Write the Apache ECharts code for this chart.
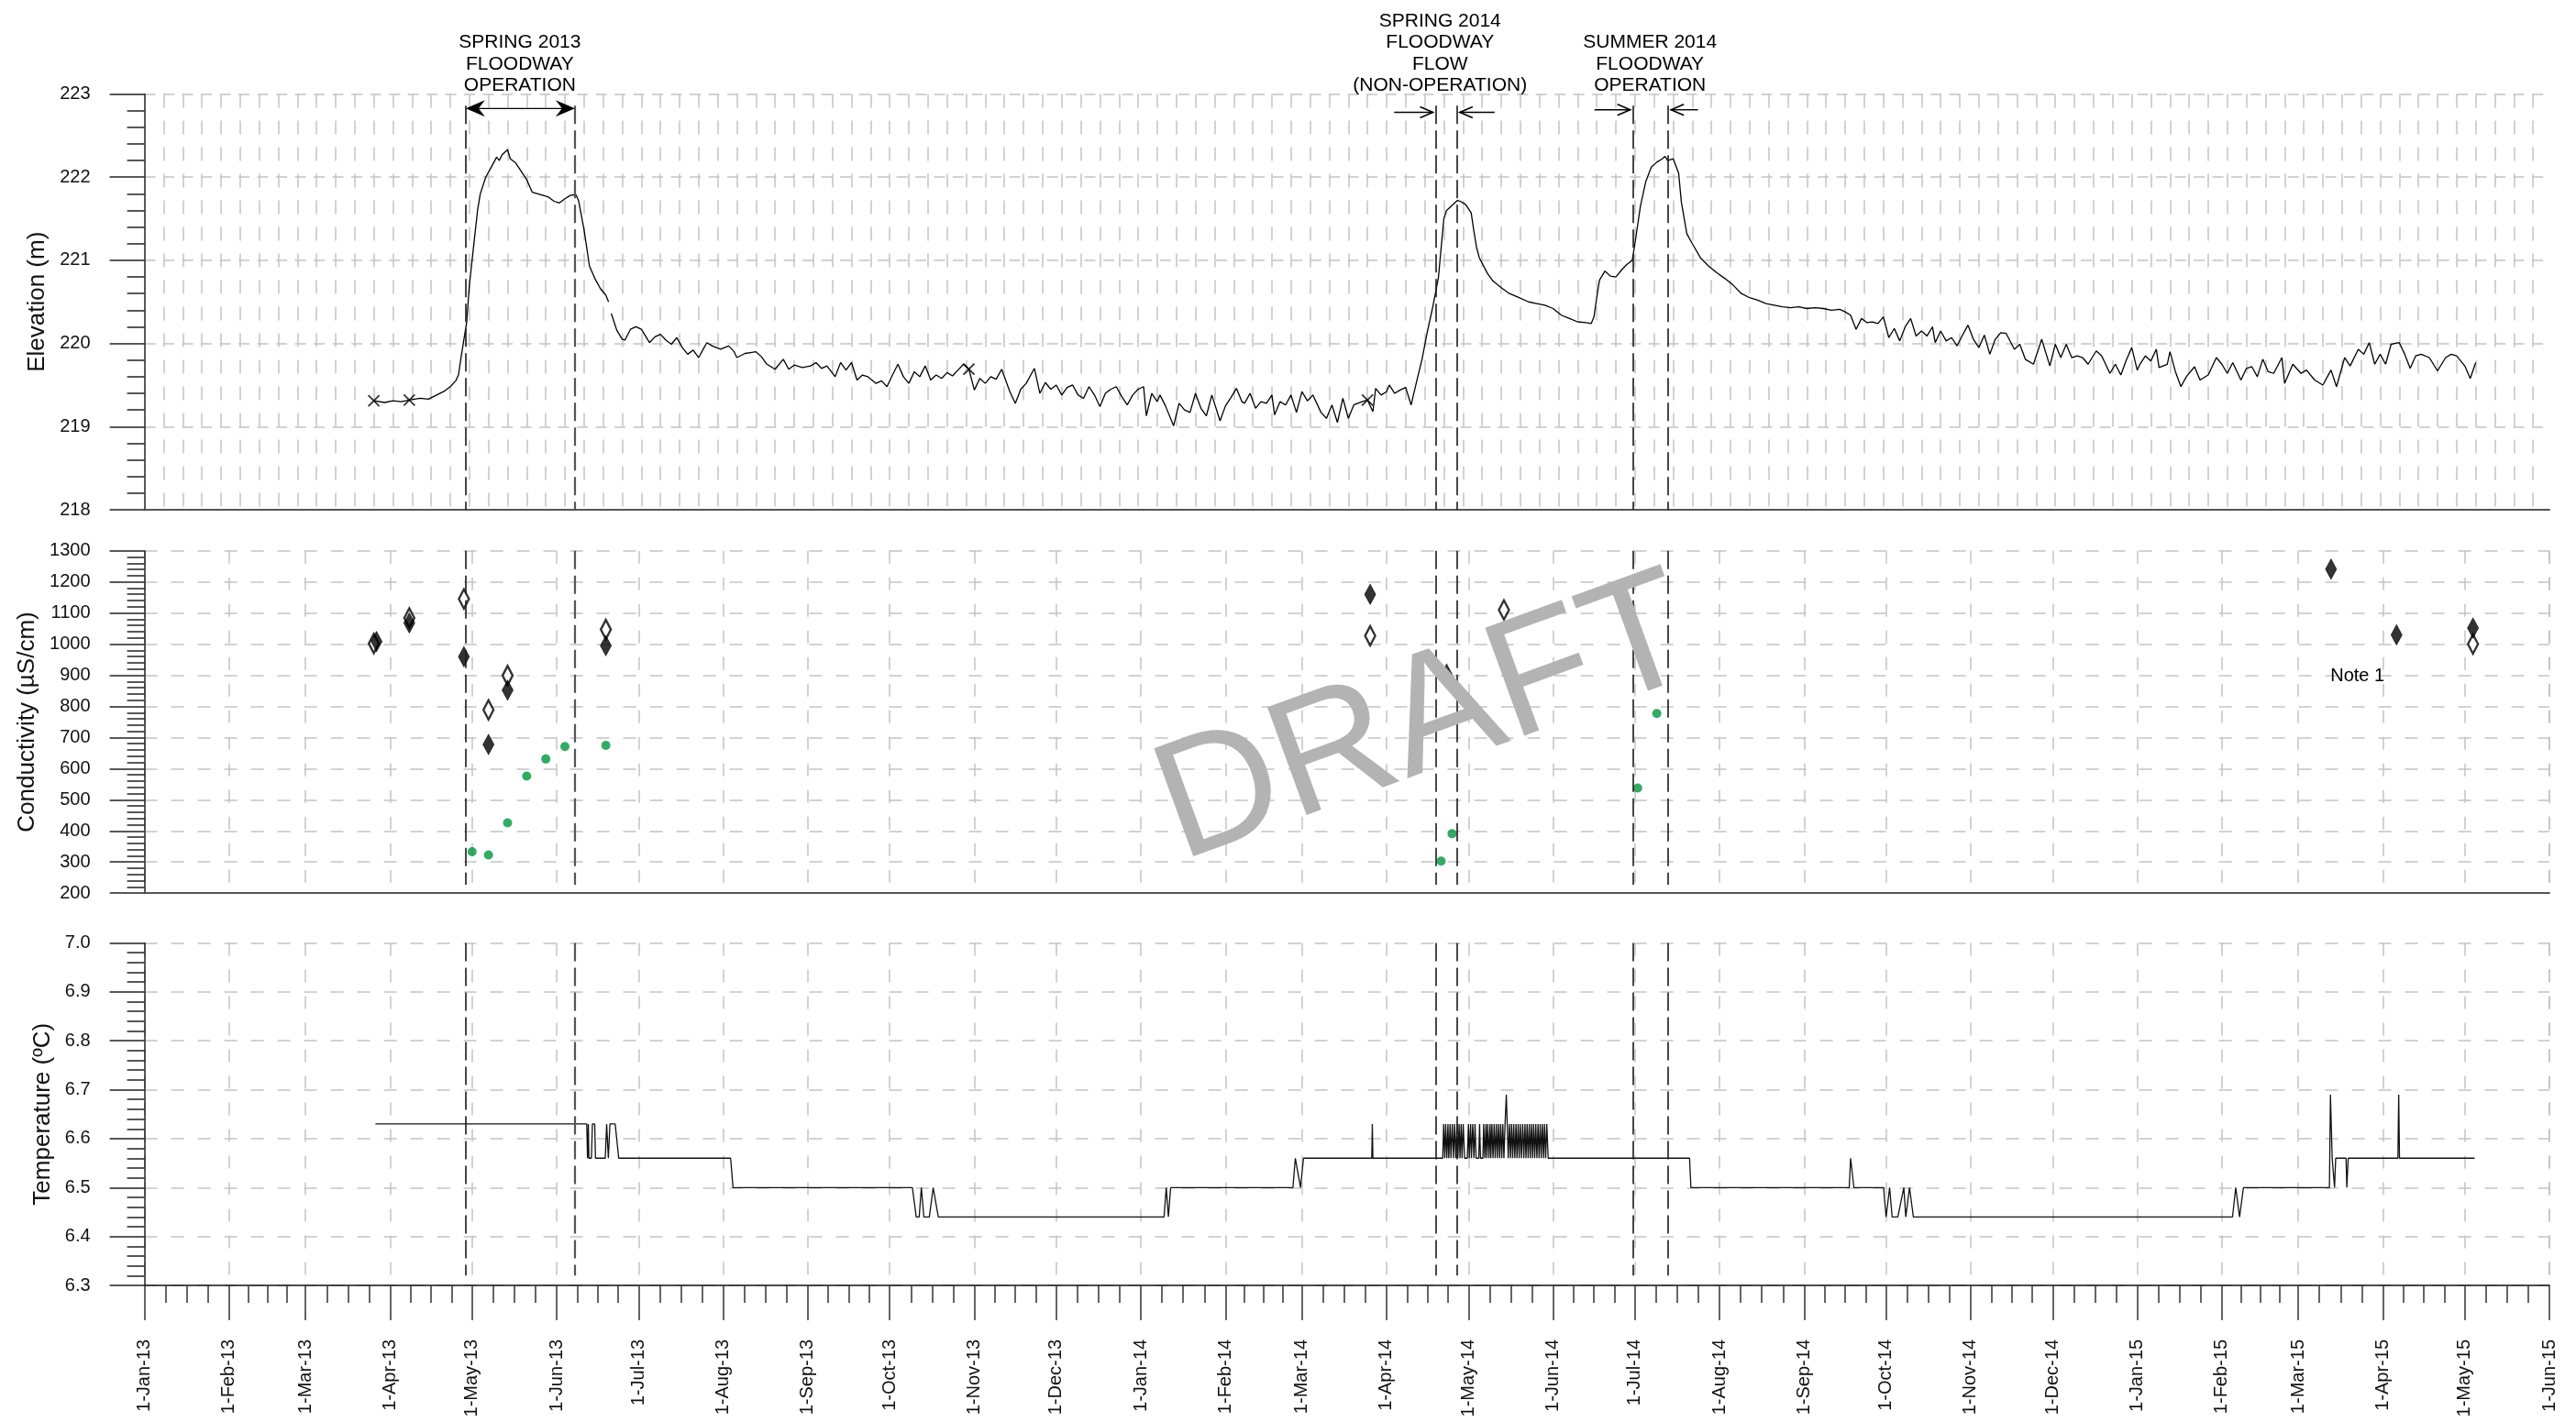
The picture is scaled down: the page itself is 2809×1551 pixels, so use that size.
<!DOCTYPE html>
<html>
<head>
<meta charset="utf-8">
<script src="https://cdn.jsdelivr.net/npm/echarts@6/dist/echarts.min.js"></script>
<style>
  html, body { margin: 0; padding: 0; background: #ffffff; }
  #chart { width: 2809px; height: 1551px; }
</style>
</head>
<body>
<div id="chart"></div>
<script>
const FONT = "'Liberation Sans', Arial, Helvetica, sans-serif";
const DAY = 86400000;
const X_MIN = '2013-01-01';
const X_MAX = '2015-06-01';
const MONTHS = ['Jan','Feb','Mar','Apr','May','Jun','Jul','Aug','Sep','Oct','Nov','Dec'];

// Groundwater elevation (m)
const elevation = [
  ['2013-03-26',219.31],['2013-03-30',219.29],['2013-04-02',219.31],['2013-04-05',219.30],['2013-04-08',219.32],['2013-04-12',219.34],['2013-04-15',219.33],['2013-04-18',219.38],['2013-04-21',219.43],['2013-04-23',219.48],['2013-04-25',219.55],['2013-04-26',219.62],['2013-04-27',219.84],['2013-04-28',220.05],['2013-04-29',220.25],['2013-04-30',220.70],
  ['2013-05-01',221.00],['2013-05-02',221.30],['2013-05-03',221.60],['2013-05-04',221.80],['2013-05-06',222.00],['2013-05-08',222.12],['2013-05-10',222.24],['2013-05-11',222.20],['2013-05-12',222.27],['2013-05-14',222.33],['2013-05-15',222.22],['2013-05-17',222.17],['2013-05-19',222.07],['2013-05-21',221.97],['2013-05-23',221.82],['2013-05-25',221.80],['2013-05-27',221.78],['2013-05-29',221.76],['2013-05-31',221.71],
  ['2013-06-02',221.69],['2013-06-04',221.74],['2013-06-06',221.78],['2013-06-08',221.79],['2013-06-09',221.72],['2013-06-11',221.37],['2013-06-13',220.93],['2013-06-15',220.78],['2013-06-17',220.66],['2013-06-19',220.58],['2013-06-20',220.50],['2013-06-20 18:00',null],['2013-06-21',220.36],['2013-06-23',220.16],['2013-06-25',220.05],['2013-06-26',220.04],['2013-06-28',220.17],['2013-06-30',220.20],
  ['2013-07-02',220.17],['2013-07-05',220.01],['2013-07-07',220.08],['2013-07-09',220.11],['2013-07-11',220.04],['2013-07-13',219.99],['2013-07-15',220.07],['2013-07-17',219.95],['2013-07-19',219.87],['2013-07-21',219.92],['2013-07-23',219.83],['2013-07-25',219.95],['2013-07-26',220.01],['2013-07-28',219.97],['2013-07-31',219.93],
  ['2013-08-03',219.97],['2013-08-05',219.90],['2013-08-06',219.83],['2013-08-09',219.88],['2013-08-11',219.89],['2013-08-13',219.90],['2013-08-15',219.84],['2013-08-17',219.75],['2013-08-20',219.69],['2013-08-23',219.81],['2013-08-25',219.69],['2013-08-27',219.74],['2013-08-30',219.71],
  ['2013-09-02',219.73],['2013-09-04',219.77],['2013-09-06',219.70],['2013-09-08',219.73],['2013-09-11',219.60],['2013-09-13',219.77],['2013-09-15',219.68],['2013-09-17',219.77],['2013-09-19',219.56],['2013-09-21',219.62],['2013-09-23',219.60],['2013-09-26',219.52],['2013-09-28',219.55],['2013-09-30',219.48],
  ['2013-10-02',219.62],['2013-10-04',219.75],['2013-10-06',219.60],['2013-10-08',219.52],['2013-10-10',219.66],['2013-10-12',219.60],['2013-10-14',219.73],['2013-10-16',219.56],['2013-10-18',219.62],['2013-10-20',219.58],['2013-10-22',219.65],['2013-10-24',219.61],['2013-10-26',219.68],['2013-10-28',219.75],['2013-10-30',219.69],
  ['2013-11-01',219.44],['2013-11-03',219.58],['2013-11-05',219.52],['2013-11-07',219.60],['2013-11-09',219.57],['2013-11-11',219.69],['2013-11-14',219.42],['2013-11-16',219.28],['2013-11-18',219.45],['2013-11-20',219.52],['2013-11-23',219.70],['2013-11-25',219.40],['2013-11-27',219.53],['2013-11-29',219.45],
  ['2013-12-01',219.50],['2013-12-03',219.38],['2013-12-05',219.47],['2013-12-07',219.50],['2013-12-09',219.38],['2013-12-11',219.34],['2013-12-13',219.48],['2013-12-15',219.38],['2013-12-17',219.24],['2013-12-19',219.40],['2013-12-21',219.45],['2013-12-23',219.48],['2013-12-25',219.36],['2013-12-27',219.26],['2013-12-29',219.38],['2013-12-31',219.45],
  ['2014-01-02',219.48],['2014-01-03',219.13],['2014-01-05',219.40],['2014-01-07',219.30],['2014-01-08',219.38],['2014-01-10',219.25],['2014-01-13',219.01],['2014-01-15',219.28],['2014-01-17',219.20],['2014-01-19',219.17],['2014-01-21',219.40],['2014-01-23',219.22],['2014-01-25',219.13],['2014-01-27',219.38],['2014-01-30',219.07],
  ['2014-02-01',219.25],['2014-02-03',219.35],['2014-02-05',219.46],['2014-02-07',219.30],['2014-02-08',219.28],['2014-02-10',219.40],['2014-02-12',219.22],['2014-02-14',219.30],['2014-02-16',219.28],['2014-02-18',219.38],['2014-02-19',219.14],['2014-02-21',219.30],['2014-02-23',219.26],['2014-02-25',219.38],['2014-02-27',219.17],
  ['2014-03-01',219.42],['2014-03-03',219.31],['2014-03-05',219.38],['2014-03-08',219.17],['2014-03-10',219.10],['2014-03-12',219.26],['2014-03-14',219.05],['2014-03-16',219.34],['2014-03-18',219.10],['2014-03-20',219.26],['2014-03-23',219.30],['2014-03-25',219.32],['2014-03-27',219.18],['2014-03-28',219.46],['2014-03-30',219.38],
  ['2014-04-01',219.42],['2014-04-02',219.50],['2014-04-04',219.40],['2014-04-06',219.44],['2014-04-08',219.47],['2014-04-10',219.26],['2014-04-12',219.54],['2014-04-14',219.81],['2014-04-16',220.15],['2014-04-18',220.45],['2014-04-19',220.62],['2014-04-20',220.79],['2014-04-21',221.15],['2014-04-22',221.50],['2014-04-23',221.60],['2014-04-25',221.66],['2014-04-27',221.72],['2014-04-28',221.71],['2014-04-30',221.67],
  ['2014-05-02',221.57],['2014-05-03',221.35],['2014-05-04',221.15],['2014-05-05',221.03],['2014-05-08',220.84],['2014-05-10',220.75],['2014-05-13',220.67],['2014-05-16',220.60],['2014-05-19',220.56],['2014-05-23',220.50],['2014-05-26',220.48],['2014-05-29',220.46],
  ['2014-06-01',220.42],['2014-06-04',220.34],['2014-06-07',220.30],['2014-06-10',220.26],['2014-06-13',220.25],['2014-06-15',220.24],['2014-06-16',220.32],['2014-06-17',220.55],['2014-06-18',220.76],['2014-06-20',220.87],['2014-06-22',220.81],['2014-06-24',220.80],['2014-06-26',220.88],['2014-06-28',220.95],['2014-06-30',221.00],
  ['2014-07-01',221.20],['2014-07-03',221.65],['2014-07-05',221.95],['2014-07-07',222.12],['2014-07-09',222.18],['2014-07-11',222.22],['2014-07-12',222.25],['2014-07-13',222.20],['2014-07-15',222.22],['2014-07-17',222.05],['2014-07-18',221.70],['2014-07-20',221.32],['2014-07-22',221.20],['2014-07-25',221.03],['2014-07-28',220.93],['2014-07-31',220.85],
  ['2014-08-03',220.78],['2014-08-06',220.70],['2014-08-09',220.60],['2014-08-12',220.55],['2014-08-15',220.52],['2014-08-18',220.48],['2014-08-21',220.46],['2014-08-24',220.44],['2014-08-27',220.43],['2014-08-30',220.44],
  ['2014-09-02',220.42],['2014-09-05',220.43],['2014-09-08',220.42],['2014-09-11',220.40],['2014-09-14',220.41],['2014-09-16',220.38],['2014-09-18',220.34],['2014-09-20',220.17],['2014-09-22',220.30],['2014-09-24',220.25],['2014-09-26',220.26],['2014-09-28',220.24],['2014-09-30',220.32],
  ['2014-10-02',220.07],['2014-10-04',220.18],['2014-10-06',220.03],['2014-10-08',220.20],['2014-10-10',220.30],['2014-10-12',220.09],['2014-10-14',220.15],['2014-10-16',220.09],['2014-10-18',220.20],['2014-10-19',220.01],['2014-10-21',220.15],['2014-10-23',220.03],['2014-10-25',220.07],['2014-10-27',219.97],['2014-10-29',220.10],['2014-10-31',220.22],
  ['2014-11-02',220.05],['2014-11-04',219.95],['2014-11-06',220.10],['2014-11-08',219.87],['2014-11-10',220.05],['2014-11-12',220.13],['2014-11-14',220.12],['2014-11-17',219.93],['2014-11-19',219.99],['2014-11-21',219.81],['2014-11-24',219.75],['2014-11-27',220.05],['2014-11-30',219.73],
  ['2014-12-02',219.99],['2014-12-04',219.83],['2014-12-06',219.99],['2014-12-08',219.83],['2014-12-10',219.85],['2014-12-12',219.83],['2014-12-14',219.75],['2014-12-17',219.91],['2014-12-19',219.85],['2014-12-22',219.64],['2014-12-24',219.75],['2014-12-26',219.62],['2014-12-28',219.80],['2014-12-30',219.95],
  ['2015-01-01',219.68],['2015-01-02',219.75],['2015-01-04',219.85],['2015-01-06',219.79],['2015-01-08',219.93],['2015-01-09',219.71],['2015-01-12',219.75],['2015-01-13',219.90],['2015-01-15',219.66],['2015-01-17',219.48],['2015-01-19',219.60],['2015-01-22',219.72],['2015-01-24',219.56],['2015-01-27',219.62],['2015-01-30',219.83],
  ['2015-02-01',219.75],['2015-02-03',219.64],['2015-02-05',219.77],['2015-02-08',219.56],['2015-02-10',219.70],['2015-02-12',219.72],['2015-02-14',219.60],['2015-02-16',219.81],['2015-02-18',219.66],['2015-02-20',219.64],['2015-02-23',219.83],['2015-02-24',219.52],['2015-02-27',219.75],
  ['2015-03-02',219.64],['2015-03-04',219.68],['2015-03-07',219.56],['2015-03-10',219.50],['2015-03-13',219.68],['2015-03-15',219.48],['2015-03-18',219.83],['2015-03-20',219.73],['2015-03-23',219.93],['2015-03-25',219.87],['2015-03-27',220.01],['2015-03-29',219.75],['2015-03-31',219.87],
  ['2015-04-02',219.75],['2015-04-04',219.99],['2015-04-07',220.01],['2015-04-09',219.87],['2015-04-11',219.70],['2015-04-13',219.85],['2015-04-15',219.87],['2015-04-18',219.83],['2015-04-21',219.67],['2015-04-24',219.83],['2015-04-26',219.87],['2015-04-28',219.85],
  ['2015-05-01',219.73],['2015-05-03',219.58],['2015-05-05',219.77]
];

// Manual water level readings (cross markers)
const elevationManual = [['2013-03-26',219.31],['2013-04-08',219.32],['2013-10-30',219.69],['2014-03-25',219.32]];

// Conductivity (µS/cm)
const conductivityOpen = [
  ['2013-03-26',1002],['2013-04-08',1084],['2013-04-28',1145],['2013-05-07',789],['2013-05-14',899],['2013-06-19',1047],
  ['2014-03-26',1027],['2014-05-14',1110],['2015-05-04',1000]
];
const conductivityClosed = [
  ['2013-03-27',1008],['2013-04-08',1068],['2013-04-28',960],['2013-05-07',678],['2013-05-14',852],['2013-06-19',995],
  ['2014-03-26',1160],['2014-04-23',904],['2015-03-13',1241],['2015-04-06',1030],['2015-05-04',1052]
];
const conductivityGreen = [
  ['2013-05-01',333],['2013-05-07',323],['2013-05-14',426],['2013-05-21',576],['2013-05-28',631],['2013-06-04',671],['2013-06-19',675],
  ['2014-04-21',303],['2014-04-25',391],['2014-07-02',538],['2014-07-09',777]
];

// Temperature (ºC)
const temperature = [
  ['2013-03-26 14:00',6.63],['2013-06-12 00:00',6.63],['2013-06-12 07:00',6.56],['2013-06-12 14:00',6.63],['2013-06-12 19:00',6.56],['2013-06-13 17:00',6.56],['2013-06-14 02:00',6.63],['2013-06-14 22:00',6.63],['2013-06-15 05:00',6.56],['2013-06-18 19:00',6.56],['2013-06-19 07:00',6.63],['2013-06-19 22:00',6.56],['2013-06-20 12:00',6.63],['2013-06-22 10:00',6.63],['2013-06-23 17:00',6.56],
  ['2013-08-03 17:00',6.56],['2013-08-04 14:00',6.50],['2013-10-09 07:00',6.50],['2013-10-10 17:00',6.44],['2013-10-11 19:00',6.44],['2013-10-12 14:00',6.50],['2013-10-13 12:00',6.44],['2013-10-15 12:00',6.44],['2013-10-16 22:00',6.50],['2013-10-17 10:00',6.50],['2013-10-18 19:00',6.44],
  ['2014-01-09 12:00',6.44],['2014-01-10 07:00',6.50],['2014-01-11 02:00',6.44],['2014-01-11 22:00',6.50],['2014-02-25 17:00',6.50],['2014-02-26 14:00',6.56],['2014-02-28 12:00',6.50],['2014-03-01 14:00',6.56],['2014-03-26 14:00',6.56],['2014-03-26 19:00',6.63],['2014-03-27 00:00',6.56],
  ['2014-04-21 14:00',6.56],['2014-04-21 22:00',6.63],['2014-04-22 08:00',6.56],['2014-04-22 16:00',6.63],['2014-04-23 02:00',6.56],['2014-04-23 12:00',6.63],['2014-04-23 19:00',6.56],['2014-04-24 07:00',6.63],['2014-04-24 14:00',6.56],['2014-04-25 02:00',6.63],['2014-04-25 12:00',6.56],['2014-04-25 22:00',6.63],['2014-04-26 09:00',6.56],['2014-04-26 19:00',6.63],['2014-04-27 03:00',6.56],['2014-04-27 14:00',6.63],['2014-04-27 22:00',6.56],['2014-04-28 08:00',6.63],['2014-04-28 16:00',6.56],['2014-04-29 02:00',6.63],['2014-04-29 14:00',6.56],
  ['2014-04-30 14:00',6.56],['2014-05-01 00:00',6.63],['2014-05-01 07:00',6.56],['2014-05-01 19:00',6.63],['2014-05-02 02:00',6.56],['2014-05-02 14:00',6.63],['2014-05-03 00:00',6.56],['2014-05-03 10:00',6.63],['2014-05-03 19:00',6.56],['2014-05-04 19:00',6.56],['2014-05-05 02:00',6.63],['2014-05-05 10:00',6.56],['2014-05-06 07:00',6.56],['2014-05-06 14:00',6.63],
  ['2014-05-07 00:00',6.56],['2014-05-07 10:00',6.63],['2014-05-07 17:00',6.56],['2014-05-08 02:00',6.63],['2014-05-08 12:00',6.56],['2014-05-08 22:00',6.63],['2014-05-09 05:00',6.56],['2014-05-09 14:00',6.63],['2014-05-10 00:00',6.56],['2014-05-10 10:00',6.63],['2014-05-10 19:00',6.56],['2014-05-11 05:00',6.63],['2014-05-11 14:00',6.56],['2014-05-12 00:00',6.63],['2014-05-12 10:00',6.56],['2014-05-12 19:00',6.63],['2014-05-13 05:00',6.56],['2014-05-13 14:00',6.63],
  ['2014-05-14 00:00',6.56],['2014-05-14 10:00',6.63],['2014-05-14 21:00',6.69],['2014-05-15 05:00',6.63],['2014-05-15 14:00',6.56],['2014-05-16 00:00',6.63],['2014-05-16 10:00',6.56],['2014-05-16 19:00',6.63],['2014-05-17 05:00',6.56],['2014-05-17 14:00',6.63],['2014-05-18 00:00',6.56],['2014-05-18 10:00',6.63],['2014-05-18 19:00',6.56],['2014-05-19 05:00',6.63],['2014-05-19 14:00',6.56],['2014-05-20 00:00',6.63],['2014-05-20 10:00',6.56],['2014-05-20 21:00',6.63],
  ['2014-05-21 07:00',6.56],['2014-05-21 17:00',6.63],['2014-05-22 02:00',6.56],['2014-05-22 12:00',6.63],['2014-05-22 21:00',6.56],['2014-05-23 07:00',6.63],['2014-05-23 16:00',6.56],['2014-05-24 02:00',6.63],['2014-05-24 12:00',6.56],['2014-05-24 21:00',6.63],['2014-05-25 07:00',6.56],['2014-05-25 16:00',6.63],['2014-05-26 02:00',6.56],['2014-05-26 12:00',6.63],['2014-05-26 21:00',6.56],['2014-05-27 07:00',6.63],['2014-05-27 16:00',6.56],['2014-05-28 02:00',6.63],['2014-05-28 12:00',6.56],['2014-05-28 21:00',6.63],['2014-05-29 07:00',6.56],['2014-05-29 17:00',6.63],['2014-05-30 05:00',6.56],
  ['2014-07-21 00:00',6.56],['2014-07-21 12:00',6.50],['2014-09-17 12:00',6.50],['2014-09-18 00:00',6.56],['2014-09-19 05:00',6.50],['2014-09-30 02:00',6.50],['2014-10-01 00:00',6.44],['2014-10-02 07:00',6.50],['2014-10-03 05:00',6.44],['2014-10-05 07:00',6.44],['2014-10-07 12:00',6.50],['2014-10-08 05:00',6.44],['2014-10-09 14:00',6.50],['2014-10-11 00:00',6.44],
  ['2015-02-04 22:00',6.44],['2015-02-06 02:00',6.50],['2015-02-07 12:00',6.44],['2015-02-08 22:00',6.50],['2015-03-12 10:00',6.50],['2015-03-12 19:00',6.69],['2015-03-13 10:00',6.56],['2015-03-14 00:00',6.56],['2015-03-14 07:00',6.50],['2015-03-14 17:00',6.56],['2015-03-18 12:00',6.56],['2015-03-18 19:00',6.50],['2015-03-19 07:00',6.56],['2015-04-06 12:00',6.56],['2015-04-06 19:00',6.69],['2015-04-07 02:00',6.56],['2015-05-04 14:00',6.56]
];

// Floodway periods: start / end of each period
const eventLines = ['2013-04-28 16:00','2013-06-07 16:00','2014-04-19 00:00','2014-04-26 20:00','2014-06-30 07:00','2014-07-13 05:00'];
const eventLabelTexts = ['SPRING 2013\nFLOODWAY\nOPERATION', 'SPRING 2014\nFLOODWAY\nFLOW\n(NON-OPERATION)', 'SUMMER 2014\nFLOODWAY\nOPERATION'];
const eventLabelDates = ['2013-05-18 12:00', '2014-04-20 14:00', '2014-07-06 12:00'];
// Double-headed arrow spanning the 2013 operation
const spanArrow = ['2013-04-28 16:00', '2013-06-07 16:00', 222.825];
// Inward-pointing arrows: [tail, tip, elevation level]
const inwardArrows = [
  ['2014-04-03 19:00','2014-04-19 00:00',222.78],
  ['2014-05-10 14:00','2014-04-26 20:00',222.78],
  ['2014-06-16 05:00','2014-06-30 07:00',222.81],
  ['2014-07-24 02:00','2014-07-13 05:00',222.81]
];
const noteText = 'Note 1';
const noteAnchor = ['2015-03-22 16:00', 896];

function ts(s) {
  const m = s.match(/(\d+)-(\d+)-(\d+)(?: (\d+):(\d+))?/);
  return new Date(+m[1], +m[2] - 1, +m[3], +(m[4] || 0), +(m[5] || 0)).getTime();
}
const toSeries = arr => arr.map(d => [ts(d[0]), d[1] === null ? '-' : d[1]]);

const GRID_L = 157.6, GRID_R = 29;
const GRID_LINE = '#c4c4c4';
const AXIS_DARK = '#222';

function timeAxis(gi, extra) {
  return Object.assign({
    type: 'time', gridIndex: gi, min: ts(X_MIN), max: ts(X_MAX),
    splitNumber: 29, minInterval: 28 * DAY, maxInterval: 31 * DAY,
    axisLine: { show: true, onZero: false, lineStyle: { color: '#555', width: 2 } },
    axisTick: { show: false }, axisLabel: { show: false },
    splitLine: { show: false }, minorTick: { show: false }, minorSplitLine: { show: false }
  }, extra || {});
}

function valueAxis(gi, min, max, interval, name, nameGap, fmt) {
  return {
    type: 'value', gridIndex: gi, min: min, max: max, interval: interval,
    name: name, nameLocation: 'middle', nameGap: nameGap,
    nameTextStyle: { fontSize: 26, fontFamily: FONT, color: '#111' },
    axisLine: { show: true, onZero: false, lineStyle: { color: AXIS_DARK, width: 1.5 } },
    axisTick: { show: true, inside: false, length: 38, lineStyle: { color: AXIS_DARK, width: 1.5 } },
    minorTick: { show: true, splitNumber: 5, length: 19, lineStyle: { color: AXIS_DARK, width: 1.5 } },
    axisLabel: { margin: 59, fontSize: 20, fontFamily: FONT, color: '#111', formatter: fmt },
    splitLine: { show: true, lineStyle: { color: GRID_LINE, width: 1.5, type: gi === 0 ? [12, 8.5] : [14, 15] } }
  };
}

const monthSplit = { show: true, lineStyle: { color: GRID_LINE, width: 1.5, type: [14, 15] } };

function eventMarkLine(yTop, yBottom) {
  return {
    silent: true, symbol: ['none', 'none'], animation: false,
    label: { show: false }, emphasis: { disabled: true },
    data: eventLines.map((t, i) => [
      { coord: [ts(t), yTop], lineStyle: { color: i === 1 ? '#555' : '#1a1a1a', width: i === 1 ? 2.2 : 1.6, type: [20, 7] } },
      { coord: [ts(t), yBottom] }
    ])
  };
}

const crossPath = 'path://M0,0L10,10M10,0L0,10';
const dayAxisMax = (ts(X_MAX) - ts(X_MIN)) / DAY;

const option = {
  animation: false,
  backgroundColor: '#ffffff',
  textStyle: { fontFamily: FONT },
  grid: [
    { left: GRID_L, right: GRID_R, top: 102.5, height: 453.5, outerBoundsMode: 'none' },
    { left: GRID_L, right: GRID_R, top: 600.7, height: 373.5, outerBoundsMode: 'none' },
    { left: GRID_L, right: GRID_R, top: 1028.5, height: 373.5, outerBoundsMode: 'none' }
  ],
  xAxis: [
    timeAxis(0),
    {
      type: 'value', gridIndex: 0, min: 0, max: dayAxisMax, interval: 7,
      axisLine: { show: false }, axisTick: { show: false }, axisLabel: { show: false },
      splitLine: { show: true, showMinLine: false, showMaxLine: false, lineStyle: { color: GRID_LINE, width: 1.5, type: [15, 14] } }
    },
    timeAxis(1, { splitLine: monthSplit }),
    timeAxis(2, {
      splitLine: monthSplit,
      axisLine: { show: true, onZero: false, lineStyle: { color: '#111', width: 1.5 } },
      axisTick: { show: true, length: 38, lineStyle: { color: '#333', width: 1.5 } },
      minorTick: { show: true, splitNumber: 4, length: 19, lineStyle: { color: '#333', width: 1.5 } },
      axisLabel: {
        show: true, rotate: 90, margin: 59, fontSize: 20, fontFamily: FONT, color: '#111',
        hideOverlap: false, showMinLabel: true, showMaxLabel: true,
        formatter: function (v) {
          const d = new Date(v);
          return d.getDate() + '-' + MONTHS[d.getMonth()] + '-' + String(d.getFullYear()).slice(2);
        }
      }
    })
  ],
  yAxis: [
    valueAxis(0, 218, 223, 1, 'Elevation (m)', 104, v => String(v)),
    valueAxis(1, 200, 1300, 100, 'Conductivity (µS/cm)', 114, v => String(v)),
    valueAxis(2, 6.3, 7.0, 0.1, 'Temperature (ºC)', 97, v => v.toFixed(1))
  ],
  series: [
    {
      name: 'Elevation', type: 'line', xAxisIndex: 0, yAxisIndex: 0,
      data: toSeries(elevation), showSymbol: false, connectNulls: false,
      lineStyle: { color: '#000', width: 1.3 }, z: 3,
      markLine: eventMarkLine(222.86, 218)
    },
    {
      name: 'Manual reading', type: 'scatter', xAxisIndex: 0, yAxisIndex: 0,
      data: toSeries(elevationManual), symbol: crossPath, symbolSize: 12,
      itemStyle: { color: 'transparent', borderColor: '#000', borderWidth: 1.8 }, z: 4
    },
    {
      name: 'Conductivity (open)', type: 'scatter', xAxisIndex: 2, yAxisIndex: 1,
      data: toSeries(conductivityOpen), symbol: 'diamond', symbolSize: [11, 21],
      itemStyle: { color: '#ffffff', borderColor: '#000', borderWidth: 2.6 }, z: 3
    },
    {
      name: 'Conductivity (closed)', type: 'scatter', xAxisIndex: 2, yAxisIndex: 1,
      data: toSeries(conductivityClosed), symbol: 'diamond', symbolSize: [12, 22],
      itemStyle: { color: '#000', borderColor: '#000', borderWidth: 0.8 }, z: 4
    },
    {
      name: 'Conductivity (green)', type: 'scatter', xAxisIndex: 2, yAxisIndex: 1,
      data: toSeries(conductivityGreen), symbol: 'circle', symbolSize: 10,
      itemStyle: { color: '#00963c' }, z: 4,
      markLine: eventMarkLine(1300, 227)
    },
    {
      name: 'Temperature', type: 'line', xAxisIndex: 3, yAxisIndex: 2,
      data: toSeries(temperature), showSymbol: false,
      lineStyle: { color: '#111', width: 1.3 }, z: 3,
      markLine: eventMarkLine(7.0, 6.32)
    }
  ]
};

const chart = echarts.init(document.getElementById('chart'), null, { renderer: 'canvas' });
chart.setOption(option);

// Annotations placed through the axes' own scales
const topPx = (t, v) => chart.convertToPixel({ xAxisIndex: 0, yAxisIndex: 0 }, [ts(t), v]);
const midPx = (t, v) => chart.convertToPixel({ xAxisIndex: 2, yAxisIndex: 1 }, [ts(t), v]);

const graphics = [];

eventLabelTexts.forEach((txt, i) => {
  const p = topPx(eventLabelDates[i], 223);
  graphics.push({
    type: 'text', z: 100, silent: true,
    style: { text: txt, x: p[0], y: 105, align: 'center', verticalAlign: 'bottom',
      fontSize: 21, fontFamily: FONT, fill: '#000', lineHeight: 23.5 }
  });
});

// Double-headed arrow
(function () {
  const a = topPx(spanArrow[0], spanArrow[2]);
  const b = topPx(spanArrow[1], spanArrow[2]);
  const y = a[1];
  graphics.push({ type: 'line', z: 100, silent: true, shape: { x1: a[0] + 10, y1: y, x2: b[0] - 10, y2: y }, style: { stroke: '#000', lineWidth: 1.3 } });
  graphics.push({ type: 'polygon', z: 100, silent: true, shape: { points: [[a[0], y], [a[0] + 21, y - 9], [a[0] + 14, y], [a[0] + 21, y + 9]] }, style: { fill: '#000' } });
  graphics.push({ type: 'polygon', z: 100, silent: true, shape: { points: [[b[0], y], [b[0] - 21, y - 9], [b[0] - 14, y], [b[0] - 21, y + 9]] }, style: { fill: '#000' } });
})();

inwardArrows.forEach(arr => {
  const tail = topPx(arr[0], arr[2]);
  const tip = topPx(arr[1], arr[2]);
  const dir = tip[0] > tail[0] ? 1 : -1;
  const y = tip[1];
  const tx = tip[0] - dir * 3;
  graphics.push({ type: 'line', z: 100, silent: true, shape: { x1: tail[0], y1: y, x2: tx, y2: y }, style: { stroke: '#000', lineWidth: 1.4 } });
  graphics.push({ type: 'polyline', z: 100, silent: true, shape: { points: [[tx - dir * 14, y - 6], [tx, y], [tx - dir * 14, y + 6]] }, style: { stroke: '#000', lineWidth: 1.6, fill: null } });
});

(function () {
  const p = midPx(noteAnchor[0], noteAnchor[1]);
  graphics.push({ type: 'text', z: 100, silent: true,
    style: { text: noteText, x: p[0], y: p[1], align: 'center', verticalAlign: 'middle', fontSize: 20, fontFamily: FONT, fill: '#000' } });
})();

// Watermark
graphics.push({
  type: 'text', z: 200, silent: true, x: 1555, y: 788, rotation: 20 * Math.PI / 180,
  style: { text: 'DRAFT', x: 0, y: 0, align: 'center', verticalAlign: 'middle', fontSize: 182, fontFamily: FONT, fill: '#b3b3b3' }
});

chart.setOption({ graphic: graphics });
</script>
</body>
</html>
